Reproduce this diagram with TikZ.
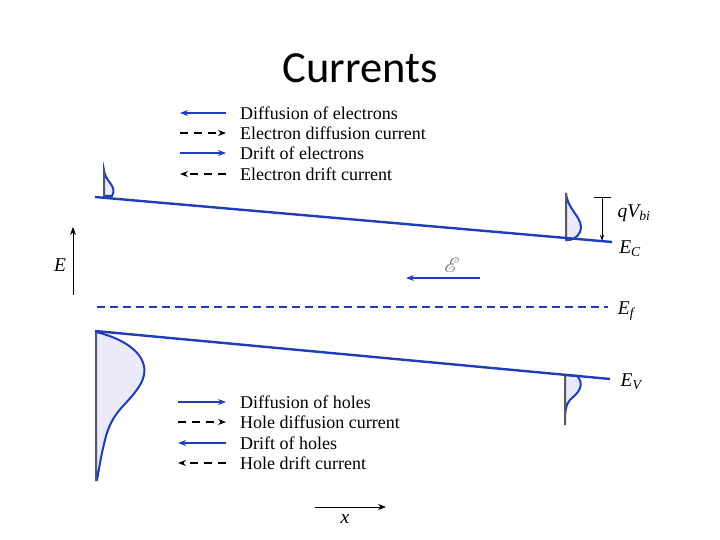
\documentclass[tikz,border=0pt]{standalone}
\usepackage{fontspec}
\setmainfont{Liberation Serif}
\newfontfamily\titlefont{Carlito}
\usepackage{mathrsfs}
\usetikzlibrary{arrows.meta}
\definecolor{bandblue}{RGB}{30,60,190}
\definecolor{distfill}{RGB}{234,234,250}
\definecolor{fieldgray}{RGB}{110,110,110}
\tikzset{
  band/.style={bandblue, line width=2.4pt},
  legtext/.style={anchor=west, font=\fontsize{18}{20}\selectfont, inner sep=0pt},
  lab/.style={font=\fontsize{19.5}{22}\selectfont\itshape, inner sep=0pt},
  tipb/.style={-{Stealth[length=8pt,width=6pt]}},
  blue arr/.style={bandblue, line width=1.3pt, tipb},
  blk arr/.style={black, line width=1.1pt, dashed, dash pattern=on 8pt off 6pt, tipb},
  axis arr/.style={black, line width=1pt, tipb},
  dist/.style={bandblue, line width=2pt, fill=distfill},
  distaxis/.style={gray!70!black, line width=1.2pt}
}
\begin{document}
\begin{tikzpicture}[x=1pt,y=-1pt]
\useasboundingbox (0,0) rectangle (720,540);
% title
\node (title) at (360,68) {\titlefont\fontsize{44.5}{50}\selectfont Currents};

% top legend
\foreach \i/\y/\txt in {1/113/Diffusion of electrons,2/133/Electron diffusion current,3/153/Drift of electrons,4/174/Electron drift current}{
  \node[legtext] (tl\i) at (240,\y) {\txt};
  \coordinate (tla\i) at (180,\y);
  \coordinate (tlb\i) at (226,\y);
}
\draw[blue arr] (tlb1) -- (tla1);
\draw[blk arr] (tla2) -- (tlb2);
\draw[blue arr] (tla3) -- (tlb3);
\draw[blk arr] (tlb4) -- (tla4);

% bottom legend
\foreach \i/\y/\txt in {1/402/Diffusion of holes,2/422/Hole diffusion current,3/443/Drift of holes,4/463/Hole drift current}{
  \node[legtext] (bl\i) at (240,\y) {\txt};
  \coordinate (bla\i) at (178,\y);
  \coordinate (blb\i) at (226,\y);
}
\draw[blue arr] (bla1) -- (blb1);
\draw[blk arr] (bla2) -- (blb2);
\draw[blue arr] (blb3) -- (bla3);
\draw[blk arr] (blb4) -- (bla4);

% distributions (drawn before bands)
% left electron
\draw[dist] (104,170) .. controls (105,182) and (118,186) .. (112,196) -- (104,196) -- cycle;
\draw[distaxis] (104,169) -- (104,197);
% right electron
\draw[dist] (566,193) .. controls (568,212) and (585,218) .. (580,232) .. controls (577,238) and (572,240) .. (568,240) -- (566,240) -- cycle;
\draw[distaxis] (566,193) -- (566,241);
% left holes
\draw[dist] (96,332) .. controls (130,340) and (155,360) .. (140,385) .. controls (128,405) and (112,410) .. (105,440) .. controls (100,460) and (99,470) .. (97,480) -- (96,480) -- cycle;
\draw[distaxis] (96,332) -- (96,481);
% right holes
\draw[dist] (565,375) -- (577,376) .. controls (583,382) and (582,390) .. (572,398) .. controls (565,404) and (565,412) .. (565,425) -- cycle;
\draw[distaxis] (565,375) -- (565,425);

% bands
\coordinate (ecl) at (95,197);
\coordinate (ecr) at (612,242);
\coordinate (evl) at (95,331);
\coordinate (evr) at (610,379);
\draw[band] (ecl) -- (ecr);
\draw[band] (evl) -- (evr);
\coordinate (efl) at (97,307);
\coordinate (efr) at (608,307);
\draw[bandblue, line width=2pt, dash pattern=on 8pt off 5pt] (efl) -- (efr);

\node[lab] (EC) at (630,249) {E\textsubscript{\itshape C}};
\node[lab] (Ef) at (626,311) {E\textsubscript{\itshape f}};
\node[lab] (EV) at (631,382) {E\textsubscript{\itshape V}};

% qVbi
\coordinate (qt) at (602,197);
\coordinate (qb) at (602,241);
\draw[black, line width=0.8pt] (594,197) -- (611,197);
\draw[black, line width=0.8pt, -{Stealth[length=6pt,width=4pt]}] (qt) -- (qb);
\node[lab] (qv) at (634,213) {qV\textsubscript{\itshape bi}};

% E axis
\coordinate (ea) at (73,295);
\coordinate (eb) at (73,227);
\draw[axis arr] (ea) -- (eb);
\node[lab] (Elab) at (60,265) {E};

% field
\coordinate (fa) at (480,278);
\coordinate (fb) at (406,278);
\draw[blue arr, line width=2pt] (fa) -- (fb);
\node[text=fieldgray, inner sep=0pt] (field) at (452,265) {\fontsize{22}{24}\selectfont$\mathscr{E}$};

% x axis
\coordinate (xa) at (315,507);
\coordinate (xb) at (386,507);
\draw[axis arr] (xa) -- (xb);
\node[lab] (xlab) at (345,519) {x};
\end{tikzpicture}
\end{document}
